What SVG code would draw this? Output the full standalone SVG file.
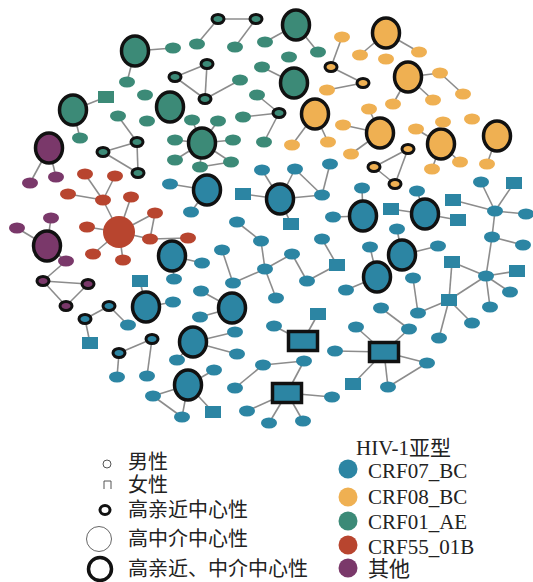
<svg xmlns="http://www.w3.org/2000/svg" width="533" height="582" viewBox="0 0 533 582">
<style>
.B{fill:#2c85a3}.O{fill:#efb052}.T{fill:#3c8a77}.R{fill:#b8452f}.P{fill:#7a386a}
.s{rx:8px;ry:5.5px}
.k{rx:6px;ry:4.5px;stroke:#111;stroke-width:3}
.L{rx:13.5px;ry:15px;stroke:#111;stroke-width:3.5}
.M{rx:16px;ry:16px}
.q{width:16px;height:12px}
.Q{width:29px;height:19px;stroke:#111;stroke-width:3.5}
#edges line{stroke:#8c8c8c;stroke-width:1.6}
.lt{font-family:"Liberation Serif","Noto Sans CJK SC",serif;font-size:20px;fill:#222}
.ls{font-family:"Liberation Serif","Noto Sans CJK SC",serif;font-size:21px;fill:#222}
</style>
<rect width="533" height="582" fill="#fff"/>
<g id="edges">
<line x1="218" y1="19" x2="256" y2="19"/><line x1="218" y1="19" x2="197" y2="44"/><line x1="256" y1="19" x2="235" y2="47"/>
<line x1="135" y1="51" x2="173" y2="48"/><line x1="135" y1="51" x2="127" y2="82"/>
<line x1="207" y1="64" x2="175" y2="77"/><line x1="207" y1="64" x2="205" y2="99"/><line x1="175" y1="77" x2="205" y2="99"/><line x1="205" y1="99" x2="240" y2="80"/>
<line x1="296" y1="25" x2="265" y2="42"/><line x1="296" y1="25" x2="318" y2="52"/><line x1="262" y1="67" x2="294" y2="83"/>
<line x1="257" y1="95" x2="279" y2="113"/><line x1="243" y1="117" x2="279" y2="113"/><line x1="279" y1="113" x2="264" y2="142"/>
<line x1="73" y1="110" x2="106" y2="97"/><line x1="73" y1="110" x2="80" y2="138"/>
<line x1="118" y1="116" x2="137" y2="142"/><line x1="103" y1="152" x2="137" y2="142"/><line x1="137" y1="142" x2="138" y2="173"/><line x1="103" y1="152" x2="138" y2="173"/>
<line x1="202" y1="143" x2="192" y2="120"/><line x1="202" y1="143" x2="218" y2="121"/><line x1="202" y1="143" x2="233" y2="140"/><line x1="202" y1="143" x2="175" y2="140"/><line x1="202" y1="143" x2="175" y2="160"/><line x1="202" y1="143" x2="200" y2="167"/><line x1="202" y1="143" x2="231" y2="162"/><line x1="200" y1="167" x2="231" y2="162"/>
<line x1="49" y1="148" x2="30" y2="183"/><line x1="49" y1="148" x2="56" y2="177"/>
<line x1="47" y1="246" x2="17" y2="228"/><line x1="47" y1="246" x2="51" y2="218"/><line x1="47" y1="246" x2="66" y2="261"/><line x1="66" y1="261" x2="43" y2="281"/>
<line x1="43" y1="281" x2="88" y2="284"/><line x1="43" y1="281" x2="66" y2="306"/><line x1="88" y1="284" x2="66" y2="306"/>
<line x1="85" y1="174" x2="103" y2="200"/><line x1="115" y1="176" x2="103" y2="200"/><line x1="68" y1="194" x2="103" y2="200"/><line x1="103" y1="200" x2="119" y2="232"/>
<line x1="131" y1="197" x2="119" y2="232"/><line x1="119" y1="232" x2="155" y2="213"/><line x1="155" y1="213" x2="150" y2="239"/><line x1="119" y1="232" x2="150" y2="239"/><line x1="150" y1="239" x2="188" y2="238"/>
<line x1="119" y1="232" x2="87" y2="227"/><line x1="119" y1="232" x2="93" y2="254"/><line x1="119" y1="232" x2="123" y2="260"/>
<line x1="342" y1="37" x2="331" y2="67"/><line x1="331" y1="67" x2="363" y2="83"/><line x1="363" y1="83" x2="327" y2="90"/>
<line x1="386" y1="33" x2="360" y2="55"/><line x1="386" y1="33" x2="419" y2="52"/>
<line x1="408" y1="77" x2="440" y2="73"/><line x1="440" y1="73" x2="463" y2="94"/><line x1="408" y1="77" x2="393" y2="104"/><line x1="408" y1="77" x2="433" y2="100"/>
<line x1="315" y1="114" x2="292" y2="145"/><line x1="315" y1="114" x2="328" y2="142"/>
<line x1="380" y1="133" x2="369" y2="109"/><line x1="380" y1="133" x2="343" y2="125"/><line x1="380" y1="133" x2="351" y2="154"/>
<line x1="441" y1="144" x2="416" y2="129"/><line x1="441" y1="144" x2="432" y2="169"/><line x1="441" y1="144" x2="460" y2="162"/><line x1="497" y1="136" x2="487" y2="164"/>
<line x1="408" y1="149" x2="374" y2="167"/><line x1="408" y1="149" x2="395" y2="184"/><line x1="374" y1="167" x2="395" y2="184"/>
<line x1="207" y1="190" x2="170" y2="184"/><line x1="207" y1="190" x2="191" y2="212"/>
<line x1="280" y1="199" x2="243" y2="194"/><line x1="280" y1="199" x2="262" y2="170"/><line x1="280" y1="199" x2="295" y2="169"/><line x1="280" y1="199" x2="322" y2="195"/><line x1="280" y1="199" x2="291" y2="224"/>
<line x1="295" y1="169" x2="322" y2="195"/><line x1="330" y1="164" x2="322" y2="195"/>
<line x1="363" y1="216" x2="333" y2="217"/><line x1="363" y1="216" x2="362" y2="188"/>
<line x1="425" y1="214" x2="391" y2="209"/><line x1="425" y1="214" x2="458" y2="220"/><line x1="425" y1="214" x2="417" y2="191"/>
<line x1="495" y1="211" x2="481" y2="182"/><line x1="495" y1="211" x2="514" y2="183"/><line x1="495" y1="211" x2="453" y2="200"/><line x1="495" y1="211" x2="526" y2="214"/><line x1="495" y1="211" x2="492" y2="237"/>
<line x1="492" y1="237" x2="523" y2="245"/><line x1="492" y1="237" x2="486" y2="276"/>
<line x1="486" y1="276" x2="452" y2="262"/><line x1="486" y1="276" x2="517" y2="271"/><line x1="486" y1="276" x2="510" y2="292"/><line x1="486" y1="276" x2="490" y2="307"/><line x1="486" y1="276" x2="449" y2="300"/>
<line x1="452" y1="262" x2="449" y2="300"/><line x1="449" y1="300" x2="418" y2="313"/><line x1="449" y1="300" x2="472" y2="323"/><line x1="449" y1="300" x2="439" y2="338"/><line x1="413" y1="278" x2="418" y2="313"/>
<line x1="402" y1="255" x2="397" y2="229"/><line x1="402" y1="255" x2="438" y2="246"/>
<line x1="377" y1="277" x2="370" y2="247"/><line x1="377" y1="277" x2="346" y2="290"/>
<line x1="381" y1="308" x2="409" y2="329"/>
<line x1="384" y1="352" x2="356" y2="327"/><line x1="384" y1="352" x2="409" y2="329"/><line x1="384" y1="352" x2="335" y2="351"/><line x1="384" y1="352" x2="427" y2="363"/><line x1="384" y1="352" x2="353" y2="384"/><line x1="384" y1="352" x2="388" y2="387"/><line x1="388" y1="387" x2="427" y2="363"/>
<line x1="303" y1="341" x2="318" y2="314"/><line x1="303" y1="341" x2="274" y2="326"/>
<line x1="287" y1="393" x2="304" y2="361"/><line x1="263" y1="365" x2="304" y2="361"/><line x1="235" y1="388" x2="263" y2="365"/>
<line x1="287" y1="393" x2="247" y2="411"/><line x1="287" y1="393" x2="269" y2="423"/><line x1="287" y1="393" x2="303" y2="421"/><line x1="287" y1="393" x2="332" y2="397"/>
<line x1="237" y1="222" x2="261" y2="241"/><line x1="261" y1="241" x2="265" y2="269"/><line x1="222" y1="250" x2="233" y2="283"/><line x1="233" y1="283" x2="265" y2="269"/>
<line x1="265" y1="269" x2="292" y2="254"/><line x1="265" y1="269" x2="276" y2="298"/><line x1="292" y1="254" x2="307" y2="281"/><line x1="307" y1="281" x2="337" y2="265"/><line x1="322" y1="239" x2="337" y2="265"/>
<line x1="172" y1="256" x2="202" y2="263"/><line x1="172" y1="256" x2="174" y2="279"/>
<line x1="140" y1="281" x2="146" y2="307"/><line x1="146" y1="307" x2="173" y2="302"/>
<line x1="109" y1="306" x2="85" y2="319"/><line x1="109" y1="306" x2="128" y2="325"/><line x1="85" y1="319" x2="90" y2="343"/>
<line x1="152" y1="339" x2="119" y2="353"/><line x1="119" y1="353" x2="117" y2="377"/><line x1="152" y1="339" x2="147" y2="376"/>
<line x1="201" y1="291" x2="232" y2="308"/><line x1="200" y1="317" x2="232" y2="308"/>
<line x1="193" y1="342" x2="235" y2="332"/><line x1="193" y1="342" x2="237" y2="354"/><line x1="193" y1="342" x2="177" y2="360"/>
<line x1="188" y1="385" x2="214" y2="370"/><line x1="188" y1="385" x2="153" y2="396"/><line x1="188" y1="385" x2="182" y2="417"/><line x1="188" y1="385" x2="213" y2="412"/><line x1="153" y1="396" x2="182" y2="417"/>
</g>
<g id="t_big1"><ellipse class="T L" cx="135" cy="51"/></g>
<g id="t_big2"><ellipse class="T L" cx="73" cy="110"/></g>
<g id="t_big3"><ellipse class="T L" cx="170" cy="107"/></g>
<g id="t_big4"><ellipse class="T L" cx="202" cy="143"/></g>
<g id="t_big5"><ellipse class="T L" cx="296" cy="25"/></g>
<g id="t_big6"><ellipse class="T L" cx="294" cy="83"/></g>
<g id="t_k1"><ellipse class="T k" cx="218" cy="19"/></g>
<g id="t_k2"><ellipse class="T k" cx="256" cy="19"/></g>
<g id="t_k3"><ellipse class="T k" cx="207" cy="64"/></g>
<g id="t_k4"><ellipse class="T k" cx="175" cy="77"/></g>
<g id="t_k5"><ellipse class="T k" cx="205" cy="99"/></g>
<g id="t_k6"><ellipse class="T k" cx="279" cy="113"/></g>
<g id="t_k7"><ellipse class="T k" cx="137" cy="142"/></g>
<g id="t_k8"><ellipse class="T k" cx="103" cy="152"/></g>
<g id="t_k9"><ellipse class="T k" cx="138" cy="173"/></g>
<g id="t_s1"><ellipse class="T s" cx="173" cy="48"/></g>
<g id="t_s2"><ellipse class="T s" cx="197" cy="44"/></g>
<g id="t_s3"><ellipse class="T s" cx="235" cy="47"/></g>
<g id="t_s4"><ellipse class="T s" cx="265" cy="42"/></g>
<g id="t_s5"><ellipse class="T s" cx="318" cy="52"/></g>
<g id="t_s6"><ellipse class="T s" cx="289" cy="57"/></g>
<g id="t_s7"><ellipse class="T s" cx="262" cy="67"/></g>
<g id="t_s8"><ellipse class="T s" cx="127" cy="82"/></g>
<g id="t_s9"><ellipse class="T s" cx="145" cy="95"/></g>
<g id="t_s10"><ellipse class="T s" cx="240" cy="80"/></g>
<g id="t_s11"><ellipse class="T s" cx="257" cy="95"/></g>
<g id="t_s12"><ellipse class="T s" cx="118" cy="116"/></g>
<g id="t_s13"><ellipse class="T s" cx="147" cy="121"/></g>
<g id="t_s14"><ellipse class="T s" cx="192" cy="120"/></g>
<g id="t_s15"><ellipse class="T s" cx="218" cy="121"/></g>
<g id="t_s16"><ellipse class="T s" cx="243" cy="117"/></g>
<g id="t_s17"><ellipse class="T s" cx="80" cy="138"/></g>
<g id="t_s18"><ellipse class="T s" cx="175" cy="140"/></g>
<g id="t_s19"><ellipse class="T s" cx="233" cy="140"/></g>
<g id="t_s20"><ellipse class="T s" cx="175" cy="160"/></g>
<g id="t_s21"><ellipse class="T s" cx="200" cy="167"/></g>
<g id="t_s22"><ellipse class="T s" cx="231" cy="162"/></g>
<g id="t_s23"><ellipse class="T s" cx="264" cy="142"/></g>
<g id="t_q1"><rect class="T q" x="98" y="91"/></g>
<g id="p_big1"><ellipse class="P L" cx="49" cy="148"/></g>
<g id="p_big2"><ellipse class="P L" cx="47" cy="246"/></g>
<g id="p_s1"><ellipse class="P s" cx="30" cy="183"/></g>
<g id="p_s2"><ellipse class="P s" cx="56" cy="177"/></g>
<g id="p_s3"><ellipse class="P s" cx="17" cy="228"/></g>
<g id="p_s4"><ellipse class="P s" cx="51" cy="218"/></g>
<g id="p_s5"><ellipse class="P s" cx="66" cy="261"/></g>
<g id="p_k1"><ellipse class="P k" cx="43" cy="281"/></g>
<g id="p_k2"><ellipse class="P k" cx="88" cy="284"/></g>
<g id="p_k3"><ellipse class="P k" cx="66" cy="306"/></g>
<g id="r_big"><ellipse class="R M" cx="119" cy="232"/></g>
<g id="r_s1"><ellipse class="R s" cx="85" cy="174"/></g>
<g id="r_s2"><ellipse class="R s" cx="115" cy="176"/></g>
<g id="r_s3"><ellipse class="R s" cx="68" cy="194"/></g>
<g id="r_s4"><ellipse class="R s" cx="103" cy="200"/></g>
<g id="r_s5"><ellipse class="R s" cx="131" cy="197"/></g>
<g id="r_s6"><ellipse class="R s" cx="155" cy="213"/></g>
<g id="r_s7"><ellipse class="R s" cx="87" cy="227"/></g>
<g id="r_s8"><ellipse class="R s" cx="150" cy="239"/></g>
<g id="r_s9"><ellipse class="R s" cx="188" cy="238"/></g>
<g id="r_s10"><ellipse class="R s" cx="93" cy="254"/></g>
<g id="r_s11"><ellipse class="R s" cx="123" cy="260"/></g>
<g id="o_big1"><ellipse class="O L" cx="386" cy="33"/></g>
<g id="o_big2"><ellipse class="O L" cx="408" cy="77"/></g>
<g id="o_big3"><ellipse class="O L" cx="315" cy="114"/></g>
<g id="o_big4"><ellipse class="O L" cx="380" cy="133"/></g>
<g id="o_big5"><ellipse class="O L" cx="441" cy="144"/></g>
<g id="o_big6"><ellipse class="O L" cx="497" cy="136"/></g>
<g id="o_k1"><ellipse class="O k" cx="331" cy="67"/></g>
<g id="o_k2"><ellipse class="O k" cx="363" cy="83"/></g>
<g id="o_k3"><ellipse class="O k" cx="408" cy="149"/></g>
<g id="o_k4"><ellipse class="O k" cx="374" cy="167"/></g>
<g id="o_k5"><ellipse class="O k" cx="395" cy="184"/></g>
<g id="o_s1"><ellipse class="O s" cx="342" cy="37"/></g>
<g id="o_s2"><ellipse class="O s" cx="360" cy="55"/></g>
<g id="o_s3"><ellipse class="O s" cx="386" cy="59"/></g>
<g id="o_s4"><ellipse class="O s" cx="419" cy="52"/></g>
<g id="o_s5"><ellipse class="O s" cx="440" cy="73"/></g>
<g id="o_s6"><ellipse class="O s" cx="463" cy="94"/></g>
<g id="o_s7"><ellipse class="O s" cx="327" cy="90"/></g>
<g id="o_s8"><ellipse class="O s" cx="393" cy="104"/></g>
<g id="o_s9"><ellipse class="O s" cx="433" cy="100"/></g>
<g id="o_s10"><ellipse class="O s" cx="369" cy="109"/></g>
<g id="o_s11"><ellipse class="O s" cx="343" cy="125"/></g>
<g id="o_s12"><ellipse class="O s" cx="416" cy="129"/></g>
<g id="o_s13"><ellipse class="O s" cx="443" cy="122"/></g>
<g id="o_s14"><ellipse class="O s" cx="472" cy="119"/></g>
<g id="o_s15"><ellipse class="O s" cx="292" cy="145"/></g>
<g id="o_s16"><ellipse class="O s" cx="328" cy="142"/></g>
<g id="o_s17"><ellipse class="O s" cx="351" cy="154"/></g>
<g id="o_s18"><ellipse class="O s" cx="432" cy="169"/></g>
<g id="o_s19"><ellipse class="O s" cx="460" cy="162"/></g>
<g id="o_s20"><ellipse class="O s" cx="487" cy="164"/></g>
<g id="b_big1"><ellipse class="B L" cx="207" cy="190"/></g>
<g id="b_big2"><ellipse class="B L" cx="280" cy="199"/></g>
<g id="b_big3"><ellipse class="B L" cx="363" cy="216"/></g>
<g id="b_big4"><ellipse class="B L" cx="425" cy="214"/></g>
<g id="b_big5"><ellipse class="B L" cx="402" cy="255"/></g>
<g id="b_big6"><ellipse class="B L" cx="377" cy="277"/></g>
<g id="b_big7"><ellipse class="B L" cx="172" cy="256"/></g>
<g id="b_big8"><ellipse class="B L" cx="146" cy="307"/></g>
<g id="b_big9"><ellipse class="B L" cx="232" cy="308"/></g>
<g id="b_big10"><ellipse class="B L" cx="193" cy="342"/></g>
<g id="b_big11"><ellipse class="B L" cx="188" cy="385"/></g>
<g id="b_k1"><ellipse class="B k" cx="109" cy="306"/></g>
<g id="b_k2"><ellipse class="B k" cx="85" cy="319"/></g>
<g id="b_k3"><ellipse class="B k" cx="152" cy="339"/></g>
<g id="b_k4"><ellipse class="B k" cx="119" cy="353"/></g>
<g id="b_Q1"><rect class="B Q" x="288.5" y="331.5"/></g>
<g id="b_Q2"><rect class="B Q" x="369.5" y="342.5"/></g>
<g id="b_Q3"><rect class="B Q" x="272.5" y="383.5"/></g>
<g id="b_q1"><rect class="B q" x="235" y="188"/></g>
<g id="b_q2"><rect class="B q" x="283" y="218"/></g>
<g id="b_q3"><rect class="B q" x="383" y="203"/></g>
<g id="b_q4"><rect class="B q" x="450" y="214"/></g>
<g id="b_q5"><rect class="B q" x="445" y="194"/></g>
<g id="b_q6"><rect class="B q" x="506" y="177"/></g>
<g id="b_q7"><rect class="B q" x="444" y="256"/></g>
<g id="b_q8"><rect class="B q" x="509" y="265"/></g>
<g id="b_q9"><rect class="B q" x="441" y="294"/></g>
<g id="b_q10"><rect class="B q" x="329" y="259"/></g>
<g id="b_q11"><rect class="B q" x="132" y="275"/></g>
<g id="b_q12"><rect class="B q" x="82" y="337"/></g>
<g id="b_q13"><rect class="B q" x="205" y="406"/></g>
<g id="b_q14"><rect class="B q" x="310" y="308"/></g>
<g id="b_q15"><rect class="B q" x="345" y="378"/></g>
<g id="b_s1"><ellipse class="B s" cx="170" cy="184"/></g>
<g id="b_s2"><ellipse class="B s" cx="191" cy="212"/></g>
<g id="b_s3"><ellipse class="B s" cx="262" cy="170"/></g>
<g id="b_s4"><ellipse class="B s" cx="295" cy="169"/></g>
<g id="b_s5"><ellipse class="B s" cx="330" cy="164"/></g>
<g id="b_s6"><ellipse class="B s" cx="322" cy="195"/></g>
<g id="b_s7"><ellipse class="B s" cx="362" cy="188"/></g>
<g id="b_s8"><ellipse class="B s" cx="333" cy="217"/></g>
<g id="b_s9"><ellipse class="B s" cx="417" cy="191"/></g>
<g id="b_s10"><ellipse class="B s" cx="481" cy="182"/></g>
<g id="b_s11"><ellipse class="B s" cx="495" cy="211"/></g>
<g id="b_s12"><ellipse class="B s" cx="526" cy="214"/></g>
<g id="b_s13"><ellipse class="B s" cx="492" cy="237"/></g>
<g id="b_s14"><ellipse class="B s" cx="523" cy="245"/></g>
<g id="b_s15"><ellipse class="B s" cx="486" cy="276"/></g>
<g id="b_s16"><ellipse class="B s" cx="510" cy="292"/></g>
<g id="b_s17"><ellipse class="B s" cx="490" cy="307"/></g>
<g id="b_s18"><ellipse class="B s" cx="472" cy="323"/></g>
<g id="b_s19"><ellipse class="B s" cx="439" cy="338"/></g>
<g id="b_s20"><ellipse class="B s" cx="418" cy="313"/></g>
<g id="b_s21"><ellipse class="B s" cx="413" cy="278"/></g>
<g id="b_s22"><ellipse class="B s" cx="381" cy="308"/></g>
<g id="b_s23"><ellipse class="B s" cx="409" cy="329"/></g>
<g id="b_s24"><ellipse class="B s" cx="397" cy="229"/></g>
<g id="b_s25"><ellipse class="B s" cx="438" cy="246"/></g>
<g id="b_s26"><ellipse class="B s" cx="370" cy="247"/></g>
<g id="b_s27"><ellipse class="B s" cx="346" cy="290"/></g>
<g id="b_s28"><ellipse class="B s" cx="237" cy="222"/></g>
<g id="b_s29"><ellipse class="B s" cx="261" cy="241"/></g>
<g id="b_s30"><ellipse class="B s" cx="222" cy="250"/></g>
<g id="b_s31"><ellipse class="B s" cx="233" cy="283"/></g>
<g id="b_s32"><ellipse class="B s" cx="265" cy="269"/></g>
<g id="b_s33"><ellipse class="B s" cx="292" cy="254"/></g>
<g id="b_s34"><ellipse class="B s" cx="322" cy="239"/></g>
<g id="b_s35"><ellipse class="B s" cx="307" cy="281"/></g>
<g id="b_s36"><ellipse class="B s" cx="276" cy="298"/></g>
<g id="b_s37"><ellipse class="B s" cx="202" cy="263"/></g>
<g id="b_s38"><ellipse class="B s" cx="174" cy="279"/></g>
<g id="b_s39"><ellipse class="B s" cx="173" cy="302"/></g>
<g id="b_s40"><ellipse class="B s" cx="128" cy="325"/></g>
<g id="b_s41"><ellipse class="B s" cx="117" cy="377"/></g>
<g id="b_s42"><ellipse class="B s" cx="147" cy="376"/></g>
<g id="b_s43"><ellipse class="B s" cx="201" cy="291"/></g>
<g id="b_s44"><ellipse class="B s" cx="200" cy="317"/></g>
<g id="b_s45"><ellipse class="B s" cx="235" cy="332"/></g>
<g id="b_s46"><ellipse class="B s" cx="237" cy="354"/></g>
<g id="b_s47"><ellipse class="B s" cx="177" cy="360"/></g>
<g id="b_s48"><ellipse class="B s" cx="214" cy="370"/></g>
<g id="b_s49"><ellipse class="B s" cx="153" cy="396"/></g>
<g id="b_s50"><ellipse class="B s" cx="182" cy="417"/></g>
<g id="b_s51"><ellipse class="B s" cx="235" cy="388"/></g>
<g id="b_s52"><ellipse class="B s" cx="263" cy="365"/></g>
<g id="b_s53"><ellipse class="B s" cx="304" cy="361"/></g>
<g id="b_s54"><ellipse class="B s" cx="247" cy="411"/></g>
<g id="b_s55"><ellipse class="B s" cx="269" cy="423"/></g>
<g id="b_s56"><ellipse class="B s" cx="303" cy="421"/></g>
<g id="b_s57"><ellipse class="B s" cx="332" cy="397"/></g>
<g id="b_s58"><ellipse class="B s" cx="274" cy="326"/></g>
<g id="b_s59"><ellipse class="B s" cx="356" cy="327"/></g>
<g id="b_s60"><ellipse class="B s" cx="335" cy="351"/></g>
<g id="b_s61"><ellipse class="B s" cx="427" cy="363"/></g>
<g id="b_s62"><ellipse class="B s" cx="388" cy="387"/></g>
<g id="legend-shape">
<circle cx="107" cy="464" r="4" fill="#fff" stroke="#555" stroke-width="1"/>
<path d="M104,489V481H111V489" fill="none" stroke="#555" stroke-width="1"/>
<ellipse cx="105" cy="510" rx="5" ry="4.5" fill="#fff" stroke="#111" stroke-width="3"/>
<circle cx="99" cy="539" r="12.5" fill="#fff" stroke="#666" stroke-width="1"/>
<circle cx="100" cy="569" r="11.5" fill="#fff" stroke="#111" stroke-width="3.5"/>
<text class="lt" x="128" y="469">男性</text>
<text class="lt" x="128" y="492">女性</text>
<text class="lt" x="128" y="517">高亲近中心性</text>
<text class="lt" x="128" y="546">高中介中心性</text>
<text class="lt" x="128" y="576">高亲近、中介中心性</text>
</g>
<g id="legend-subtype">
<text class="ls" x="356" y="455">HIV-1亚型</text>
<circle class="B" cx="348" cy="469" r="9.5"/>
<circle class="O" cx="348" cy="497" r="9.5"/>
<circle class="T" cx="348" cy="521" r="9.5"/>
<circle class="R" cx="348" cy="545" r="9.5"/>
<circle class="P" cx="348" cy="568" r="9.5"/>
<text class="ls" x="368" y="478">CRF07_BC</text>
<text class="ls" x="368" y="504">CRF08_BC</text>
<text class="ls" x="368" y="529">CRF01_AE</text>
<text class="ls" x="368" y="554">CRF55_01B</text>
<text class="ls" x="368" y="576">其他</text>
</g>
</svg>
